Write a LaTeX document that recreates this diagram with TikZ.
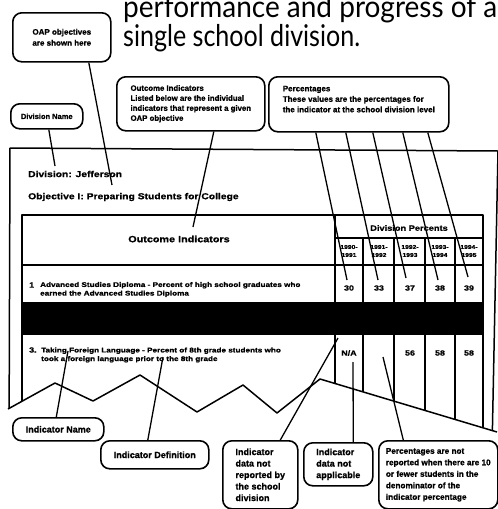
\documentclass[tikz,border=0pt]{standalone}
\usepackage{fontspec}
\setmainfont{Liberation Sans}
\newfontfamily\labelfont{Liberation Sans Bold}[FakeBold=1]
\newfontfamily\rowfont{Liberation Sans Bold}[FakeBold=1, FakeStretch=1.2]
\newfontfamily\headfont{Lato}

\begin{document}
\begin{tikzpicture}[x=1pt, y=-1pt, line join=round,
    callout/.style={draw, line width=1.6pt, rounded corners=9pt, align=left,
        inner xsep=6pt, inner ysep=3pt, anchor=north west,
        font=\labelfont\fontsize{9}{11.5}\selectfont},
    pointer/.style={line width=1.3pt},
    sheet/.style={line width=1.5pt},
    cell/.style={font=\rowfont\fontsize{7.4}{8.6}\selectfont, inner sep=0pt},
    year/.style={font=\rowfont\fontsize{5.6}{8}\selectfont, align=center, inner sep=0pt}]
    \useasboundingbox (0,0) rectangle (498,509);

    % Heading (cut off at the top)
    \node[anchor=base west, inner sep=0pt, font=\headfont\fontsize{30}{34}\selectfont] (head1) at (123,17)
        {\resizebox{374pt}{\height}{performance and progress of a}};
    \node[anchor=base west, inner sep=0pt, font=\headfont\fontsize{30}{34}\selectfont] (head2) at (123,46)
        {\resizebox{237pt}{\height}{single school division.}};

    % Callouts above the sheet
    \node[callout, minimum width=98, minimum height=49, font=\labelfont\fontsize{8}{11}\selectfont] (oap) at (12,12)
        {OAP objectives\\are shown here};
    \node[callout, minimum width=72, minimum height=25, align=center, font=\labelfont\fontsize{7.5}{9}\selectfont] (divname) at (10,103)
        {Division Name};
    \node[callout, minimum width=148, minimum height=54, font=\labelfont\fontsize{7.8}{10}\selectfont] (outcome) at (116,76)
        {Outcome Indicators\\Listed below are the individual\\indicators that represent a given\\OAP objective};
    \node[callout, minimum width=180, minimum height=55, font=\labelfont\fontsize{8}{10.5}\selectfont] (pct) at (268,76)
        {Percentages\\These values are the percentages for\\the indicator at the school division level\\\mbox{}};

    % The sheet, torn at the bottom
    \begin{scope}
        \clip (0,140) -- (498,140) -- (498,432) -- (320,379) -- (277,413) -- (243,385) -- (197,412)
            -- (140,375) -- (93,401) -- (55,383) -- (8,409) -- (0,409) -- cycle;
        \draw[sheet] (9,450) -- (10,148) -- (498,151) -- (492,450);
        \node[cell, anchor=west, font=\rowfont\fontsize{8.6}{10}\selectfont] (divtxt) at (28,174) {Division: Jefferson};
        \node[cell, anchor=west, font=\rowfont\fontsize{8.6}{10}\selectfont] (objtxt) at (28,197) {Objective I: Preparing Students for College};

        % table
        \fill (22,303) rectangle (483,335);
        \draw[sheet] (22,450) -- (22,215) -- (483,215) -- (483,450);
        \draw[sheet] (22,265) -- (483,265);
        \draw[sheet] (22,303) -- (483,303);
        \draw[sheet] (335,215) -- (335,450);
        \draw[sheet] (335,238) -- (483,238);
        \foreach \x in {363,394,425,455}
            \draw[sheet] (\x,238) -- (\x,450);
        \node[cell, font=\rowfont\fontsize{9}{11}\selectfont] (outhead) at (179,239) {Outcome Indicators};
        \node[cell, font=\rowfont\fontsize{7.7}{8}\selectfont] (divpct) at (409,228) {Division Percents};
        \foreach \x/\ya/\yb/\v [count=\i] in {349/1990/1991/30, 379/1991/1992/33, 410/1992/1993/37,
                440/1993/1994/38, 469/1994/1995/39} {
            \node[year] (yr\i) at (\x,251) {\ya-\\\yb};
            \node[cell] (va\i) at (\x,288) {\v};
        }
        % row 1
        \node[cell, anchor=west] (num1) at (29,285) {1};
        \node[cell, anchor=west, align=left, font=\rowfont\fontsize{6.8}{8.6}\selectfont] (row1) at (40,289.5)
            {Advanced Studies Diploma - Percent of high school graduates who\\earned the Advanced Studies Diploma};
        % row 3
        \node[cell, anchor=west] (num3) at (29,350) {3.};
        \node[cell, anchor=west, align=left, font=\rowfont\fontsize{6.8}{8.6}\selectfont] (row3) at (41,355)
            {Taking Foreign Language - Percent of 8th grade students who\\took a foreign language prior to the 8th grade};
        \node[cell] (vb1) at (349,353) {N/A};
        \node[cell] (vb3) at (410,353) {56};
        \node[cell] (vb4) at (440,353) {58};
        \node[cell] (vb5) at (469,353) {58};
    \end{scope}
    \draw[sheet] (8,409) -- (55,383) -- (93,401) -- (140,375) -- (197,412) -- (243,385)
        -- (277,413) -- (320,379) -- (497,432);

    % Callouts below the sheet
    \node[callout, minimum width=91, minimum height=23, align=center] (indname) at (12,417) {Indicator Name};
    \node[callout, minimum width=108, minimum height=28, align=center] (inddef) at (100,440) {Indicator Definition};
    \node[callout, minimum width=75, minimum height=68] (notrep) at (222,440)
        {Indicator\\data not\\reported by\\the school\\division};
    \node[callout, minimum width=69, minimum height=43] (notapp) at (303,442)
        {Indicator\\data not\\applicable};
    \node[callout, minimum width=119, minimum height=68, font=\labelfont\fontsize{8.2}{11.5}\selectfont] (notshown) at (378,440)
        {Percentages are not\\reported when there are 10\\or fewer students in the\\denominator of the\\indicator percentage};

    % Pointer ends
    \coordinate (tObj) at (112,185);
    \coordinate (tDiv) at (55,166);
    \coordinate (tOut) at (193,227);
    \coordinate (tName) at (68,351);
    \coordinate (tDef) at (163,357);
    \coordinate (tRep) at (338,338);
    \coordinate (tApp) at (353,362);
    \coordinate (tShown) at (383,357);

    % Pointers
    \draw[pointer] ([xshift=27]oap.south) -- (tObj);
    \draw[pointer] ([xshift=2]divname.south) -- (tDiv);
    \draw[pointer] ([xshift=23]outcome.south) -- (tOut);
    \foreach \dx/\x/\y [count=\i] in {-43/347/280, -13/378/280, 14/406/278, 44/438/280, 69/468/277} {
        \coordinate (tPct\i) at (\x,\y);
        \draw[pointer] ([xshift=\dx]pct.south) -- (tPct\i);
    }
    \draw[pointer] ([xshift=-2]indname.north) -- (tName);
    \draw[pointer] ([xshift=-7]inddef.north) -- (tDef);
    \draw[pointer] ([xshift=20]notrep.north) -- (tRep);
    \draw[pointer] ([xshift=15]notapp.north) -- (tApp);
    \draw[pointer] ([xshift=-35]notshown.north) -- (tShown);
\end{tikzpicture}
\end{document}
